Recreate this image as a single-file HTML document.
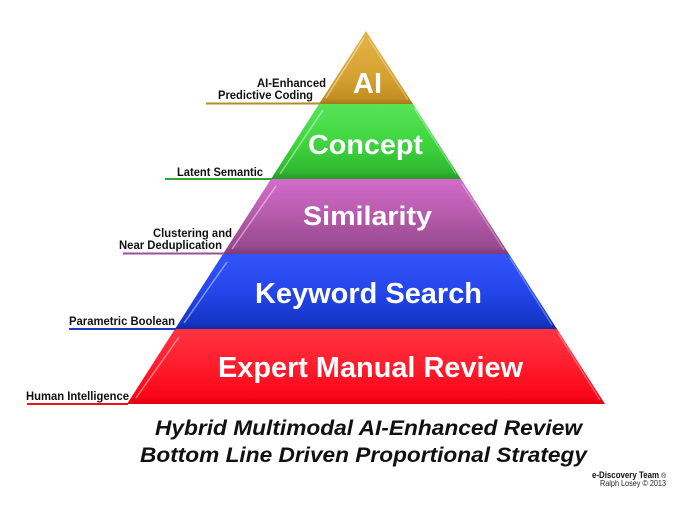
<!DOCTYPE html>
<html><head><meta charset="utf-8"><style>
html,body{margin:0;padding:0;background:#fff;}
svg{display:block;}
text{font-family:"Liberation Sans",Arial,sans-serif;}
</style></head><body>
<svg width="700" height="510" viewBox="0 0 700 510" xmlns="http://www.w3.org/2000/svg">
<defs>
<linearGradient id="gAI" x1="0" y1="0" x2="0" y2="1">
<stop offset="0" stop-color="#e4b445"/><stop offset="0.6" stop-color="#d6a333"/><stop offset="0.92" stop-color="#c48e22"/><stop offset="1" stop-color="#a87818"/>
</linearGradient>
<linearGradient id="gG" x1="0" y1="0" x2="0" y2="1">
<stop offset="0" stop-color="#58e458"/><stop offset="0.5" stop-color="#40d640"/><stop offset="0.9" stop-color="#2fb82f"/><stop offset="1" stop-color="#229a22"/>
</linearGradient>
<linearGradient id="gP" x1="0" y1="0" x2="0" y2="1">
<stop offset="0" stop-color="#d26cca"/><stop offset="0.45" stop-color="#b85cae"/><stop offset="0.9" stop-color="#98498f"/><stop offset="1" stop-color="#7c3a76"/>
</linearGradient>
<linearGradient id="gB" x1="0" y1="0" x2="0" y2="1">
<stop offset="0" stop-color="#3454fa"/><stop offset="0.5" stop-color="#2446ea"/><stop offset="0.9" stop-color="#1636c8"/><stop offset="1" stop-color="#102aa8"/>
</linearGradient>
<linearGradient id="gR" x1="0" y1="0" x2="0" y2="1">
<stop offset="0" stop-color="#ff3442"/><stop offset="0.5" stop-color="#ff1c2c"/><stop offset="0.9" stop-color="#f80618"/><stop offset="1" stop-color="#e00010"/>
</linearGradient>
</defs>

<!-- Tiers -->
<polygon points="366,31 413,104 319,104" fill="url(#gAI)"/>
<polygon points="319,104 413,104 461,179 271,179" fill="url(#gG)"/>
<polygon points="271,179 461,179 509,254 223,254" fill="url(#gP)"/>
<polygon points="223,254 509,254 557,329 175,329" fill="url(#gB)"/>
<polygon points="175,329 557,329 605,404 127,404" fill="url(#gR)"/>

<!-- Edge highlights -->
<g stroke="#ffffff" stroke-opacity="0.45" stroke-width="1.5" fill="none">
<line x1="364" y1="38" x2="326" y2="98"/>
<line x1="323" y1="110" x2="280" y2="174"/>
<line x1="276" y1="186" x2="232" y2="249"/>
<line x1="227" y1="262" x2="184" y2="323"/>
<line x1="179" y1="337" x2="136" y2="398"/>
</g>
<g stroke="#ffffff" stroke-opacity="0.3" stroke-width="1.5" fill="none">
<line x1="368" y1="38" x2="408" y2="100"/>
<line x1="414" y1="108" x2="456" y2="174"/>
<line x1="462" y1="184" x2="504" y2="250"/>
<line x1="510" y1="258" x2="552" y2="325"/>
<line x1="558" y1="333" x2="600" y2="400"/>
</g>

<!-- Tier labels -->
<g fill="#ffffff" font-weight="bold">
<text x="367.5" y="93" font-size="29" text-anchor="middle" textLength="29" lengthAdjust="spacingAndGlyphs">AI</text>
<text x="365.5" y="154" font-size="28" text-anchor="middle" textLength="115" lengthAdjust="spacingAndGlyphs">Concept</text>
<text x="367.5" y="225" font-size="27" text-anchor="middle" textLength="129" lengthAdjust="spacingAndGlyphs">Similarity</text>
<text x="368.5" y="303" font-size="29" text-anchor="middle" textLength="227" lengthAdjust="spacingAndGlyphs">Keyword Search</text>
<text x="370.5" y="377" font-size="28.5" text-anchor="middle" textLength="305" lengthAdjust="spacingAndGlyphs">Expert Manual Review</text>
</g>

<!-- Side labels -->
<g fill="#111" font-weight="bold" font-size="11.5">
<text x="326" y="87" text-anchor="end" textLength="69" lengthAdjust="spacingAndGlyphs">AI-Enhanced</text>
<text x="313" y="99" text-anchor="end" textLength="95" lengthAdjust="spacingAndGlyphs">Predictive Coding</text>
<text x="263" y="176" text-anchor="end" textLength="86" lengthAdjust="spacingAndGlyphs">Latent Semantic</text>
<text x="232" y="237" text-anchor="end" textLength="79" lengthAdjust="spacingAndGlyphs">Clustering and</text>
<text x="222" y="249" text-anchor="end" textLength="103" lengthAdjust="spacingAndGlyphs">Near Deduplication</text>
<text x="69" y="325" textLength="106" lengthAdjust="spacingAndGlyphs">Parametric Boolean</text>
<text x="26" y="400" textLength="103" lengthAdjust="spacingAndGlyphs">Human Intelligence</text>
</g>

<!-- Leader lines -->
<g stroke-width="2">
<line x1="206" y1="103.5" x2="320" y2="103.5" stroke="#b88a28"/>
<line x1="165" y1="179" x2="272" y2="179" stroke="#2ea82e"/>
<line x1="123" y1="253.5" x2="224" y2="253.5" stroke="#9a5292"/>
<line x1="69" y1="329" x2="176" y2="329" stroke="#1c3cc8"/>
<line x1="27" y1="404" x2="128" y2="404" stroke="#ee1020"/>
</g>

<!-- Title -->
<g fill="#111" font-weight="bold" font-style="italic" font-size="21">
<text x="155" y="435" textLength="427" lengthAdjust="spacingAndGlyphs">Hybrid Multimodal AI-Enhanced Review</text>
<text x="140" y="462" textLength="447" lengthAdjust="spacingAndGlyphs">Bottom Line Driven Proportional Strategy</text>
</g>

<!-- Credits -->
<text x="592" y="478" font-size="9" font-weight="bold" fill="#111" textLength="67" lengthAdjust="spacingAndGlyphs">e-Discovery Team</text>
<text x="661" y="478" font-size="7" fill="#111">®</text>
<text x="600" y="486" font-size="8.5" fill="#222" textLength="66" lengthAdjust="spacingAndGlyphs">Ralph Losey © 2013</text>
</svg>
</body></html>
